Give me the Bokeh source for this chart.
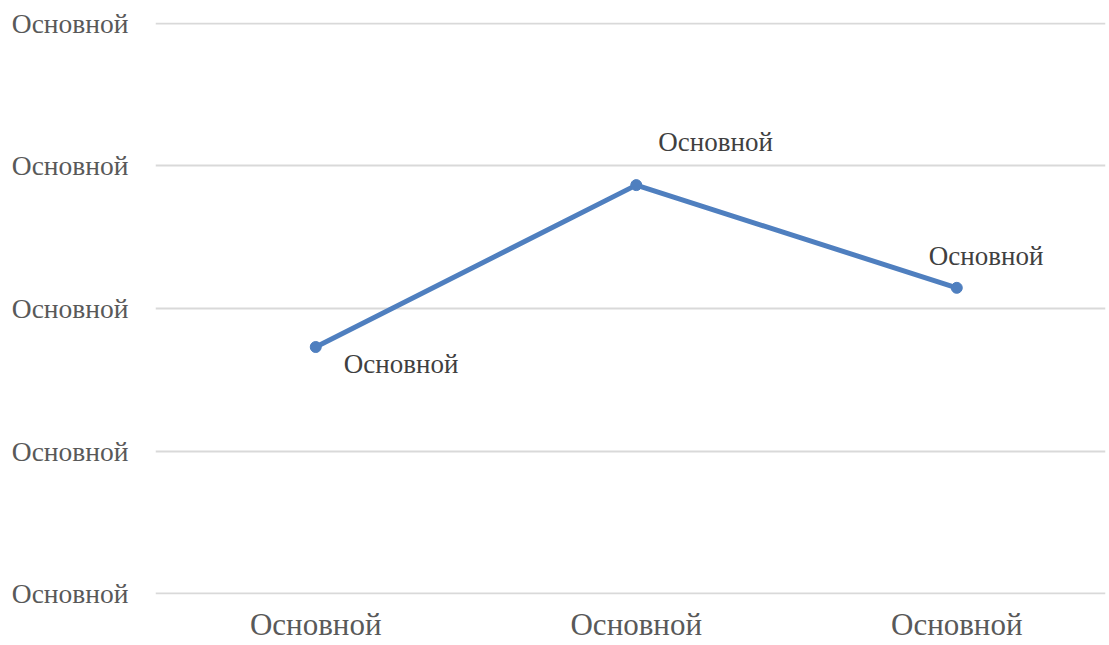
from bokeh.plotting import figure
from bokeh.models import FixedTicker, Range1d, ColumnDataSource
from bokeh.core.properties import value
from bokeh.embed import file_html
from bokeh.resources import INLINE

categories = ["Основной", "Основной", "Основной"]
x_pos = [0.5, 1.5, 2.5]
values = [1.73, 2.865, 2.145]
data_labels = ["Основной", "Основной", "Основной"]
y_ticks = [0, 1, 2, 3, 4]
y_tick_labels = ["Основной"] * 5

FONT = "Liberation Serif"
LINE_COLOR = "#4f7fbf"

p = figure(width=1108, height=645, output_backend="svg", toolbar_location=None,
           x_range=Range1d(0, 2.964), y_range=Range1d(-0.005, 4.005))
p.min_border_left = 155
p.min_border_right = 3
p.min_border_top = 22
p.min_border_bottom = 51
p.outline_line_color = None
p.background_fill_color = "white"
p.border_fill_color = "white"

p.xgrid.grid_line_color = None
p.ygrid.grid_line_color = "#d9d9d9"
p.ygrid.grid_line_width = 2

p.yaxis.ticker = FixedTicker(ticks=y_ticks)
p.yaxis.major_label_overrides = {t: l for t, l in zip(y_ticks, y_tick_labels)}
p.xaxis.ticker = FixedTicker(ticks=x_pos)
p.xaxis.major_label_overrides = {x: c for x, c in zip(x_pos, categories)}

for ax in (p.xaxis[0], p.yaxis[0]):
    ax.axis_line_color = None
    ax.major_tick_line_color = None
    ax.minor_tick_line_color = None
    ax.major_tick_out = 0
    ax.major_tick_in = 0
    ax.minor_tick_out = 0
    ax.minor_tick_in = 0
    ax.major_label_text_font = FONT
    ax.major_label_text_color = "#595959"

p.yaxis.major_label_text_font_size = "27.5px"
p.yaxis.major_label_standoff = 27
p.xaxis.major_label_text_font_size = "31px"
p.xaxis.major_label_standoff = 12

src = ColumnDataSource(dict(x=x_pos, y=values, label=data_labels,
                            xo=[28, 22, -28], yo=[17, -43, -32]))
p.line("x", "y", source=src, line_color=LINE_COLOR, line_width=5)
p.scatter("x", "y", source=src, size=11, fill_color=LINE_COLOR, line_color=LINE_COLOR)
p.text("x", "y", text="label", source=src, x_offset="xo", y_offset="yo",
       text_font=value(FONT), text_font_size="27px", text_color="#404040",
       text_align="left", text_baseline="middle")

open("out.html", "w").write(file_html(p, INLINE))
